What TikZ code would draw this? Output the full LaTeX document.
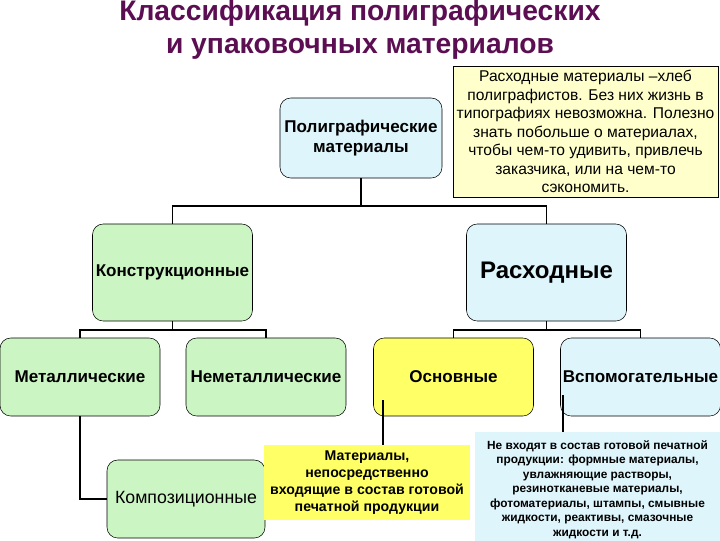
\documentclass[tikz,border=0pt]{standalone}
\usepackage{fontspec}
\setmainfont{Liberation Sans}
\usepackage{tikz}
\usetikzlibrary{calc,positioning}
\definecolor{titlePurple}{RGB}{92, 14, 82}
\definecolor{paleGreen}{RGB}{204, 245, 196}
\definecolor{paleCyan}{RGB}{221, 245, 251}
\definecolor{brightYellow}{RGB}{255, 255, 102}
\definecolor{paleYellow}{RGB}{255, 255, 204}

\tikzset{
  mbox/.style={draw, thin, rounded corners=8pt, align=center, inner sep=1pt,
    font=\bfseries\fontsize{12.8}{14.6}\selectfont},
  rowbox/.style={mbox, minimum width=120pt, minimum height=58.5pt},
  link/.style={line width=1.4pt},
}

\begin{document}
\begin{tikzpicture}[x=0.75pt, y=-0.75pt]
    \useasboundingbox (0,0) rectangle (720,540);
    \node[text=titlePurple, align=center, font=\bfseries\fontsize{21.2}{24.5}\selectfont]
      (title) at (360,30) {Классификация полиграфических\\и упаковочных материалов};
    % top level
    \node[mbox, fill=paleCyan, minimum width=121.5pt, minimum height=60pt] (poly) at (361,138)
      {Полиграфические\\материалы};
    \node[draw, thin, fill=paleYellow, inner sep=0pt, minimum width=198.75pt, minimum height=98.25pt,
      align=center, font=\fontsize{11.7}{13.9}\selectfont] (note) at (585.5,131.5)
      {Расходные материалы –хлеб\\полиграфистов. Без них жизнь в\\типографиях невозможна. Полезно\\
       знать побольше о материалах,\\чтобы чем-то удивить, привлечь\\заказчика, или на чем-то\\сэкономить.};
    % second level
    \node[mbox, fill=paleGreen, minimum width=120pt, minimum height=72.75pt] (konstr) at (172.5,272.5)
      {Конструкционные};
    \node[mbox, fill=paleCyan, minimum width=120pt, minimum height=72.75pt,
      font=\bfseries\fontsize{18}{20}\selectfont] (rasx) at (546.5,272.5) {Расходные};
    % third level
    \node[rowbox, fill=paleGreen] (metal) at (80,377) {Металлические};
    \node[rowbox, fill=paleGreen] (nemetal) at (266,377) {Неметаллические};
    \node[rowbox, fill=brightYellow] (osnov) at (453.5,377) {Основные};
    \node[rowbox, fill=paleCyan] (vspom) at (640.5,377) {Вспомогательные};
    \node[rowbox, fill=paleGreen, minimum width=118.5pt, font=\fontsize{13.3}{15}\selectfont]
      (komp) at (186,499) {Композиционные};
    % notes below
    \node[fill=brightYellow, inner sep=0pt, minimum width=155pt, minimum height=56pt, align=center,
      font=\bfseries\fontsize{10.6}{12.75}\selectfont] (osnnote) at (367,482.5)
      {Материалы,\\непосредственно\\входящие в состав готовой\\печатной продукции};
    \node[fill=paleCyan, inner sep=0pt, minimum width=184.5pt, minimum height=86pt, align=center,
      font=\bfseries\fontsize{8.9}{10.9}\selectfont] (vspnote) at (597.5,489.5)
      {Не входят в состав готовой печатной\\продукции: формные материалы,\\увлажняющие растворы,\\
       резинотканевые материалы,\\фотоматериалы, штампы, смывные\\жидкости, реактивы, смазочные\\жидкости и т.д.};
    % connectors
    \coordinate (fork1) at ($(poly.south)+(0,28)$);
    \draw[link] (poly.south) -- (fork1);
    \draw[link] (konstr.north) |- (fork1) -| (rasx.north);
    \coordinate (fork2) at ($(konstr.south)+(0,9)$);
    \draw[link] (metal.north) |- (fork2) -| (nemetal.north);
    \draw[link] (konstr.south) -- (fork2);
    \coordinate (fork3) at ($(rasx.south)+(0,9)$);
    \draw[link] (osnov.north) |- (fork3) -| (vspom.north);
    \draw[link] (rasx.south) -- (fork3);
    \draw[link] (metal.south) |- (komp.west);
    \coordinate (osntail) at (383,400);
    \draw[link] (osntail) -- (osntail |- osnnote.north);
    \coordinate (vsptail) at (563,395);
    \draw[link] (vsptail) -- (vsptail |- vspnote.north);
\end{tikzpicture}
\end{document}
